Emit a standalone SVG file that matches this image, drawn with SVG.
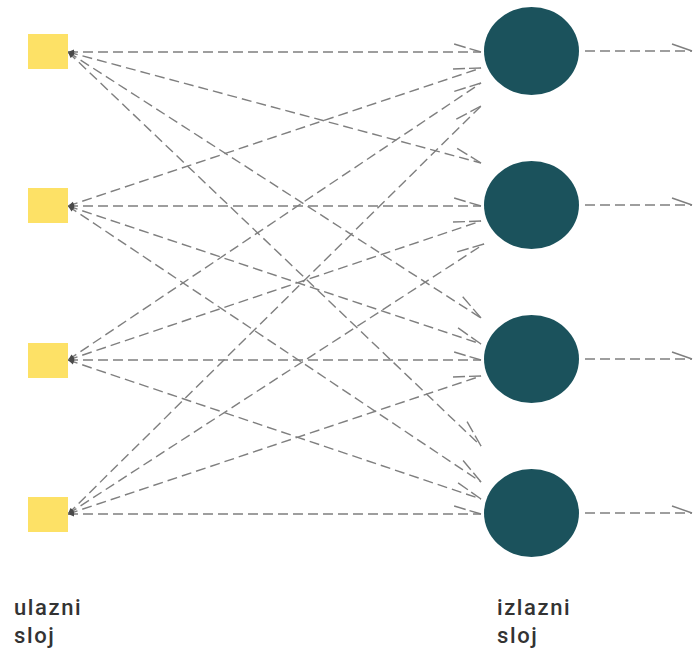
<svg xmlns="http://www.w3.org/2000/svg" width="694" height="655" viewBox="0 0 694 655">
  <style>
    .in { fill: #fde166; }
    .out { fill: #1b525c; }
    .link { fill: none; stroke: #7f7f7f; stroke-width: 1.4; stroke-dasharray: 10 5; marker-start: url(#tail); marker-end: url(#barb); }
    .exit { fill: none; stroke: #7f7f7f; stroke-width: 1.4; stroke-dasharray: 10 5; marker-end: url(#barbS); }
    .label { font-family: Roboto, "Open Sans", sans-serif; font-size: 22px; font-weight: 500; letter-spacing: 1.6px; fill: #333; }
  </style>
  <defs>
    <marker id="tail" markerUnits="userSpaceOnUse" orient="auto-start-reverse" markerWidth="8" markerHeight="8" refX="0" refY="0" overflow="visible">
      <path d="M0,0 L-6,-2.6 L-6,2.6 Z" fill="#4a4a4a"/>
    </marker>
    <marker id="barb" markerUnits="userSpaceOnUse" orient="auto" markerWidth="30" markerHeight="30" refX="0" refY="0" overflow="visible">
      <path d="M0,0 L-27,-8" fill="none" stroke="#7f7f7f" stroke-width="1.4" stroke-dasharray="12 4"/>
    </marker>
    <marker id="barbS" markerUnits="userSpaceOnUse" orient="auto" markerWidth="30" markerHeight="30" refX="0" refY="0" overflow="visible">
      <path d="M0,0 L-20,-7" fill="none" stroke="#7f7f7f" stroke-width="1.4"/>
    </marker>
  </defs>

  <!-- connectors: every input to every output, plus outgoing lines -->
  <g id="connectors">
    <path class="link" d="M68,52 L481,52"/>
    <path class="link" d="M68,52 L481,163"/>
    <path class="link" d="M68,52 L481,318"/>
    <path class="link" d="M68,52 L481,446"/>

    <path class="link" d="M68,206 L481,68"/>
    <path class="link" d="M68,206 L481,206"/>
    <path class="link" d="M68,206 L481,344"/>
    <path class="link" d="M68,206 L481,482"/>

    <path class="link" d="M68,360 L481,83"/>
    <path class="link" d="M68,360 L481,221"/>
    <path class="link" d="M68,360 L481,360"/>
    <path class="link" d="M68,360 L481,499"/>

    <path class="link" d="M68,514 L481,106"/>
    <path class="link" d="M68,514 L484,244"/>
    <path class="link" d="M68,514 L481,376"/>
    <path class="link" d="M68,514 L481,514"/>

    <path class="exit" d="M585,51 L692,51"/>
    <path class="exit" d="M585,205 L692,205"/>
    <path class="exit" d="M585,359 L692,359"/>
    <path class="exit" d="M585,513 L692,513"/>
  </g>

  <!-- input layer -->
  <g id="in1"><rect class="in" x="28" y="34" width="40" height="35"/></g>
  <g id="in2"><rect class="in" x="28" y="188" width="40" height="35"/></g>
  <g id="in3"><rect class="in" x="28" y="343" width="40" height="35"/></g>
  <g id="in4"><rect class="in" x="28" y="497" width="40" height="35"/></g>

  <!-- output layer -->
  <g id="out1"><ellipse class="out" cx="531.5" cy="51" rx="47.5" ry="44"/></g>
  <g id="out2"><ellipse class="out" cx="531.5" cy="205" rx="47.5" ry="44"/></g>
  <g id="out3"><ellipse class="out" cx="531.5" cy="359" rx="47.5" ry="44"/></g>
  <g id="out4"><ellipse class="out" cx="531.5" cy="513" rx="47.5" ry="44"/></g>

  <!-- layer captions -->
  <g id="label-in">
    <text class="label" x="14" y="615">ulazni</text>
    <text class="label" x="14" y="643">sloj</text>
  </g>
  <g id="label-out">
    <text class="label" x="497" y="615">izlazni</text>
    <text class="label" x="497" y="643">sloj</text>
  </g>
</svg>
